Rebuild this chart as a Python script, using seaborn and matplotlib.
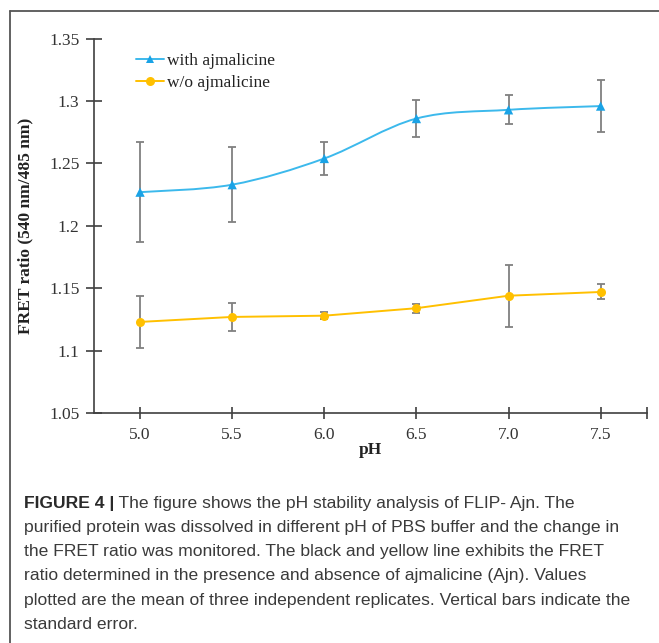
import numpy as np
import pandas as pd
import matplotlib
matplotlib.use("Agg")
import matplotlib.pyplot as plt
import seaborn as sns
from matplotlib.path import Path
from matplotlib.patches import PathPatch
from matplotlib.lines import Line2D

# ---------------- data ----------------
ph = [5.0, 5.5, 6.0, 6.5, 7.0, 7.5]
with_ajm = [1.227, 1.233, 1.254, 1.286, 1.293, 1.296]
with_err = [0.040, 0.030, 0.013, 0.015, 0.0115, 0.0205]
wo_ajm = [1.123, 1.127, 1.128, 1.134, 1.144, 1.147]
wo_err = [0.021, 0.011, 0.003, 0.0036, 0.025, 0.006]
series_labels = ["with ajmalicine", "w/o ajmalicine"]
x_tick_labels = ["5.0", "5.5", "6.0", "6.5", "7.0", "7.5"]
y_ticks = [1.05, 1.1, 1.15, 1.2, 1.25, 1.3, 1.35]
y_tick_labels = ["1.05", "1.1", "1.15", "1.2", "1.25", "1.3", "1.35"]
x_label = "pH"
y_label = "FRET ratio (540 nm/485 nm)"
caption_bold = "FIGURE 4 |"
caption_lines = [
    " The figure shows the pH stability analysis of FLIP- Ajn. The",
    "purified protein was dissolved in different pH of PBS buffer and the change in",
    "the FRET ratio was monitored. The black and yellow line exhibits the FRET",
    "ratio determined in the presence and absence of ajmalicine (Ajn). Values",
    "plotted are the mean of three independent replicates. Vertical bars indicate the",
    "standard error.",
]

BLUE = "#3cb9ec"
BLUE_M = "#1aa3e6"
GOLD = "#ffc000"
ERR = "#808080"
AX = "#404040"

sns.set_style("white")
plt.rcParams["font.family"] = ["Liberation Serif", "DejaVu Serif"]

W, H = 659, 643
fig = plt.figure(figsize=(W / 100, H / 100), dpi=100)
ax_l, ax_r, ax_t, ax_b = 94, 646.7, 38.7, 413
ax = fig.add_axes([ax_l / W, 1 - ax_b / H, (ax_r - ax_l) / W, (ax_b - ax_t) / H])

df_with = pd.DataFrame({"pH": ph, "FRET": with_ajm, "err": with_err})
df_wo = pd.DataFrame({"pH": ph, "FRET": wo_ajm, "err": wo_err})

# error bars
ax.errorbar(df_with["pH"], df_with["FRET"], yerr=df_with["err"], fmt="none",
            ecolor=ERR, elinewidth=1.3, capsize=3.2, capthick=1.3, zorder=2)
ax.errorbar(df_wo["pH"], df_wo["FRET"], yerr=df_wo["err"], fmt="none",
            ecolor=ERR, elinewidth=1.3, capsize=3.2, capthick=1.3, zorder=2)


def smooth_path(x, y):
    P = np.column_stack([np.asarray(x, float), np.asarray(y, float)])
    n = len(P)
    verts = [P[0]]
    codes = [Path.MOVETO]
    for i in range(n - 1):
        p0 = P[i - 1] if i > 0 else P[i]
        p1, p2 = P[i], P[i + 1]
        p3 = P[i + 2] if i + 2 < n else P[i + 1]
        verts += [p1 + (p2 - p0) / 6, p2 - (p3 - p1) / 6, p2]
        codes += [Path.CURVE4] * 3
    return Path(verts, codes)


# smoothed blue line (Excel-style smoothing) + markers
ax.add_patch(PathPatch(smooth_path(df_with["pH"], df_with["FRET"]), fill=False,
                       edgecolor=BLUE, lw=1.4, zorder=3))
sns.scatterplot(data=df_with, x="pH", y="FRET", marker="^", color=BLUE_M, s=45,
                edgecolor="none", zorder=4, ax=ax, legend=False)
# gold line with markers
sns.lineplot(data=df_wo, x="pH", y="FRET", color=GOLD, lw=1.4, marker="o",
             markersize=6.5, markeredgewidth=0, zorder=4, ax=ax, legend=False)

ax.set_xlim(4.75, 7.75)
ax.set_ylim(1.05, 1.35)
ax.set_xticks(ph + [7.75])
ax.set_xticklabels(x_tick_labels + [""])
ax.set_yticks(y_ticks)
ax.set_yticklabels(y_tick_labels)

for s in ["top", "right"]:
    ax.spines[s].set_visible(False)
for s in ["left", "bottom"]:
    ax.spines[s].set_color(AX)
    ax.spines[s].set_linewidth(1.2)

ax.tick_params(axis="y", left=True, direction="inout", length=11, width=1.2, color=AX,
               labelsize=12.5, labelcolor="#333333", pad=5)
ax.tick_params(axis="x", bottom=True, direction="inout", length=8, width=1.2, color=AX,
               labelsize=12.5, labelcolor="#333333", pad=6)

ax.set_xlabel(x_label, fontsize=12.5, fontweight="bold", color="#222222", labelpad=-0.5)
ax.set_ylabel(y_label, fontsize=12.5, fontweight="bold", color="#222222")
ax.yaxis.set_label_coords((33 - ax_l) / (ax_r - ax_l), 0.5)

handles = [
    Line2D([], [], color=BLUE, lw=1.4, marker="^", markersize=5.5,
           markerfacecolor=BLUE_M, markeredgewidth=0),
    Line2D([], [], color=GOLD, lw=1.4, marker="o", markersize=6.5,
           markerfacecolor=GOLD, markeredgewidth=0),
]
leg = ax.legend(handles, series_labels, loc="upper left",
                bbox_to_anchor=(0.076, 0.962), frameon=False, borderpad=0,
                borderaxespad=0, handlelength=1.6, handletextpad=0.2,
                labelspacing=0.33, prop={"family": ["Liberation Serif"], "size": 12.5})
for t in leg.get_texts():
    t.set_color("#222222")

# frame around panel (left and top edges)
fig.add_artist(Line2D([10 / W, 10 / W], [0, 1 - 11 / H], transform=fig.transFigure,
                      color="#555555", lw=1.3))
fig.add_artist(Line2D([10 / W, 1], [1 - 11 / H, 1 - 11 / H], transform=fig.transFigure,
                      color="#555555", lw=1.3))

# caption
cap_font = ["Liberation Sans", "DejaVu Sans"]
cap_size = 12.6
x0 = 24 / W
y0 = 503.3
dy = 24.2
renderer = fig.canvas.get_renderer()
tb = fig.text(x0, 1 - y0 / H, caption_bold, family=cap_font, fontsize=cap_size,
              fontweight="bold", color="#2a2a2a", va="center", ha="left")
bb = tb.get_window_extent(renderer=renderer)
fig.text(bb.x1 / W, 1 - y0 / H, caption_lines[0], family=cap_font, fontsize=cap_size,
         color="#3a3a3a", va="center", ha="left")
for k, line in enumerate(caption_lines[1:], start=1):
    fig.text(x0, 1 - (y0 + k * dy) / H, line, family=cap_font, fontsize=cap_size,
             color="#3a3a3a", va="center", ha="left")

fig.savefig("out.png", dpi=100)
